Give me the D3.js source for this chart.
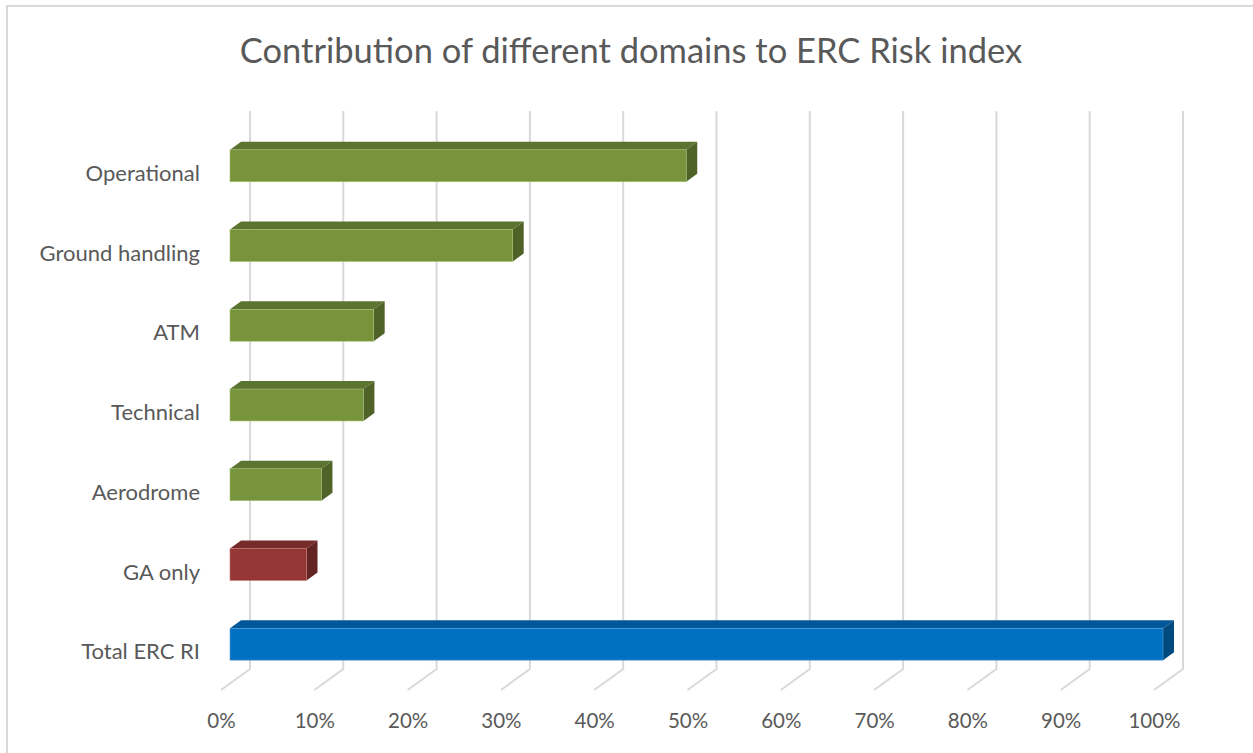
<!DOCTYPE html>
<html>
<head>
<meta charset="utf-8">
<script src="https://cdn.jsdelivr.net/npm/d3@7"></script>
<style>
  body { margin: 0; background: #fff; }
  text { font-family: Lato, "Open Sans", sans-serif; fill: #595959; }
</style>
</head>
<body>
<div id="chart-area"></div>
<script>
var categories = ["Operational", "Ground handling", "ATM", "Technical", "Aerodrome", "GA only", "Total ERC RI"];
var values = [0.489, 0.303, 0.154, 0.143, 0.098, 0.082, 1.0];
var barColors = ["green", "green", "green", "green", "green", "red", "blue"];
var tickValues = [0, 0.1, 0.2, 0.3, 0.4, 0.5, 0.6, 0.7, 0.8, 0.9, 1.0];
var title = "Contribution of different domains to ERC Risk index";

var width = 1253, height = 753;

// face colours for the 3d bars
var shades = {
  green: { front: "#77933c", top: "#5b7530", side: "#4f6228", edge: "#a4bd6e" },
  red:   { front: "#953735", top: "#772c2a", side: "#632523", edge: "#c07472" },
  blue:  { front: "#0070c0", top: "#00589a", side: "#004a80", edge: "#5a9fd6" }
};

var svg = d3.select("#chart-area").append("svg")
    .attr("width", width)
    .attr("height", height);

svg.append("rect")
    .attr("x", 7).attr("y", 6)
    .attr("width", 1260).attr("height", 770)
    .attr("fill", "#fff")
    .attr("stroke", "#d9d9d9")
    .attr("stroke-width", 2);

svg.append("text")
    .attr("x", 631)
    .attr("y", 63)
    .attr("text-anchor", "middle")
    .attr("font-size", "34.5px")
    .text(title);

// back wall scale; the floor runs toward the viewer by depth (dx, dy)
var x = d3.scaleLinear().domain([0, 1]).range([250, 1183]);
var wallTop = 111, wallBottom = 669;
var depth = { dx: -29, dy: 21 };
var barFront = { dx: -20, dy: 0 };   // front face of bars relative to back wall
var barDepth = { dx: 11, dy: -8 };   // from front face back to rear face

var y = d3.scaleBand()
    .domain(categories)
    .range([102, 708])
    .padding(0.6);

// gridlines: vertical on the back wall, then diagonal across the floor
svg.append("g").selectAll("path")
    .data(tickValues)
    .enter().append("path")
    .attr("d", function(d) {
        return "M" + x(d) + "," + wallTop + "V" + wallBottom +
               "L" + (x(d) + depth.dx) + "," + (wallBottom + depth.dy);
    })
    .attr("fill", "none")
    .attr("stroke", "#d9d9d9")
    .attr("stroke-width", 2);

var data = categories.map(function(c, i) {
    return { name: c, value: values[i], color: shades[barColors[i]] };
});

var bars = svg.append("g").selectAll("g")
    .data(data)
    .enter().append("g");

function pts(arr) { return arr.map(function(p) { return p.join(","); }).join(" "); }

// top face
bars.append("polygon")
    .attr("points", function(d) {
        var x0 = x(0) + barFront.dx, x1 = x(d.value) + barFront.dx, yt = y(d.name);
        return pts([[x0, yt], [x1, yt], [x1 + barDepth.dx, yt + barDepth.dy], [x0 + barDepth.dx, yt + barDepth.dy]]);
    })
    .attr("fill", function(d) { return d.color.top; });

// side face
bars.append("polygon")
    .attr("points", function(d) {
        var x1 = x(d.value) + barFront.dx, yt = y(d.name), yb = yt + y.bandwidth();
        return pts([[x1, yt], [x1 + barDepth.dx, yt + barDepth.dy], [x1 + barDepth.dx, yb + barDepth.dy], [x1, yb]]);
    })
    .attr("fill", function(d) { return d.color.side; });

// front face
bars.append("rect")
    .attr("x", x(0) + barFront.dx)
    .attr("y", function(d) { return y(d.name); })
    .attr("width", function(d) { return x(d.value) - x(0); })
    .attr("height", y.bandwidth())
    .attr("fill", function(d) { return d.color.front; })
    .attr("stroke", function(d) { return d.color.edge; })
    .attr("stroke-width", 0.6);

// percent labels along the front edge of the floor
var xFloor = d3.scaleLinear().domain([0, 1]).range([x(0) + depth.dx, x(1) + depth.dx]);
var bottomAxis = d3.axisBottom(xFloor)
    .tickValues(tickValues)
    .tickSize(0)
    .tickPadding(23)
    .tickFormat(d3.format(".0%"));

svg.append("g")
    .attr("transform", "translate(0," + (wallBottom + depth.dy) + ")")
    .call(bottomAxis)
    .call(function(g) { g.select(".domain").remove(); })
    .selectAll("text")
    .attr("font-size", "20.5px")
    .attr("font-family", "Lato, 'Open Sans', sans-serif")
    .attr("fill", "#595959");

var leftAxis = d3.axisLeft(y).tickSize(0).tickPadding(0);

svg.append("g")
    .attr("transform", "translate(200,8)")
    .call(leftAxis)
    .call(function(g) { g.select(".domain").remove(); })
    .selectAll("text")
    .attr("font-size", "22px")
    .attr("font-family", "Lato, 'Open Sans', sans-serif")
    .attr("fill", "#595959");
</script>
</body>
</html>
